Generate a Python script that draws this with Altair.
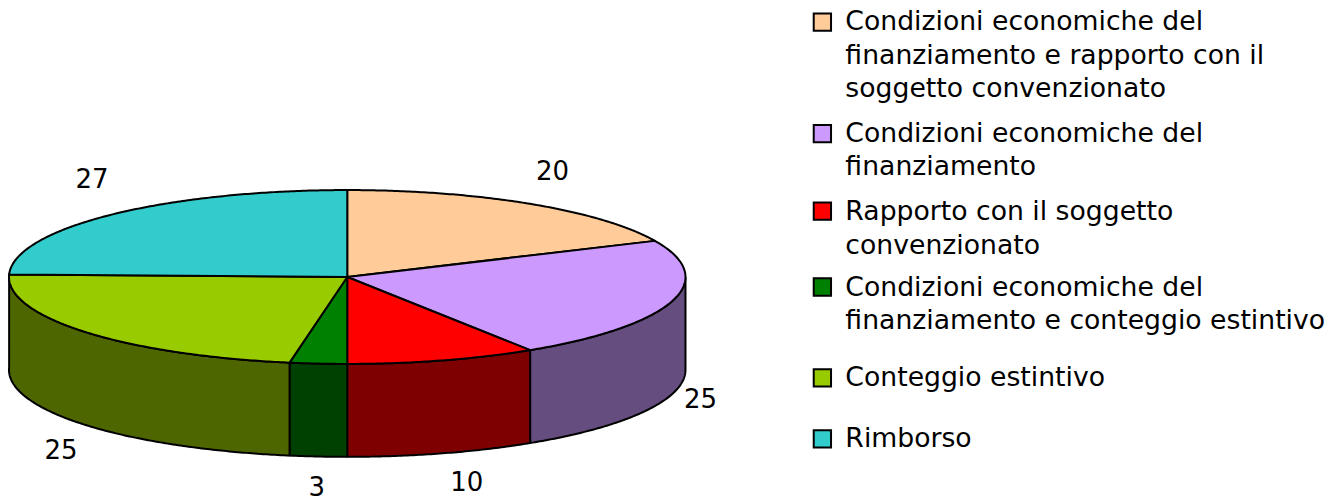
import math
import altair as alt
import pandas as pd

# ---- chart data -------------------------------------------------------
categories = [
    "Condizioni economiche del finanziamento e rapporto con il soggetto convenzionato",
    "Condizioni economiche del finanziamento",
    "Rapporto con il soggetto convenzionato",
    "Condizioni economiche del finanziamento e conteggio estintivo",
    "Conteggio estintivo",
    "Rimborso",
]
values = [20, 25, 10, 3, 25, 27]
legend_lines = [
    ["Condizioni economiche del", "finanziamento e rapporto con il", "soggetto convenzionato"],
    ["Condizioni economiche del", "finanziamento"],
    ["Rapporto con il soggetto", "convenzionato"],
    ["Condizioni economiche del", "finanziamento e conteggio estintivo"],
    ["Conteggio estintivo"],
    ["Rimborso"],
]

# ---- styling ----------------------------------------------------------
top_colors = ["#FFCC99", "#CC99FF", "#FF0000", "#008000", "#99CC00", "#33CCCC"]
wall_colors = ["#7F664D", "#664D7F", "#7F0000", "#004000", "#4D6600", "#196666"]
FONT = "DejaVu Sans"
W, H = 1319, 489
CX, CY, RX, RY, DEPTH = 346.5, 277.0, 338.5, 87.0, 93.0
LABEL_X = [552, 700, 466, 316, 60, 91]
LABEL_Y = [172, 400.5, 483.5, 488.5, 451, 179.5]
LEGEND_KEY_Y = [22, 133.5, 211, 287, 378, 439]
LEGEND_LINE = 33.5
LEGEND_TEXT_DY = [0, 0, 1, 1, 0, 0]
KEY_X, TEXT_X = 822, 845

xs = alt.Scale(domain=[8, 8 + W], range=[0, W])
ys = alt.Scale(domain=[8, 8 + H], range=[0, H])
X = lambda f: alt.X(f, type="quantitative", scale=xs, axis=None)
Y = lambda f: alt.Y(f, type="quantitative", scale=ys, axis=None)


def ell(deg, drop=0.0):
    a = math.radians(deg)
    return CX + RX * math.sin(a), CY - RY * math.cos(a) + drop


def arc(a0, a1, drop=0.0):
    n = max(2, int(abs(a1 - a0)) * 2)
    return [ell(a0 + (a1 - a0) * i / n, drop) for i in range(n + 1)]


def poly(points, fill):
    df = pd.DataFrame(
        [{"x": p[0], "y": p[1], "i": i} for i, p in enumerate(points)]
    )
    return (
        alt.Chart(df)
        .mark_line(fill=fill, stroke="black", strokeWidth=2, strokeJoin="round", interpolate="linear")
        .encode(x=X("x"), y=Y("y"), order=alt.Order("i:Q"))
    )


total = sum(values)
bounds = [0.0]
for v in values:
    bounds.append(bounds[-1] + v / total * 360)

layers = []
# outer walls first, only the front half is visible
for k in range(len(values)):
    a0, a1 = max(bounds[k], 90), min(bounds[k + 1], 271.6)
    if a1 <= a0:
        continue
    pts = arc(a0, a1) + arc(a1, a0, DEPTH)
    pts.append(pts[0])
    layers.append(poly(pts, wall_colors[k]))
# top faces
for k in range(len(values)):
    pts = [(CX, CY)] + arc(bounds[k], bounds[k + 1]) + [(CX, CY)]
    layers.append(poly(pts, top_colors[k]))

# value labels
lab = pd.DataFrame({"x": LABEL_X, "y": LABEL_Y, "t": [str(v) for v in values]})
layers.append(
    alt.Chart(lab)
    .mark_text(font=FONT, fontSize=26, color="black", align="center", baseline="middle")
    .encode(x=X("x"), y=Y("y"), text="t:N")
)

# legend keys
keys = pd.DataFrame({"x": [KEY_X] * 6, "y": LEGEND_KEY_Y, "c": top_colors, "cat": categories})
layers.append(
    alt.Chart(keys)
    .mark_point(shape="square", filled=True, size=300, stroke="black", strokeWidth=2, opacity=1)
    .encode(x=X("x"), y=Y("y"), fill=alt.Fill("c:N", scale=None))
)

# legend text
rows = []
for k, lines in enumerate(legend_lines):
    for j, s in enumerate(lines):
        rows.append({"x": TEXT_X, "y": LEGEND_KEY_Y[k] + LEGEND_TEXT_DY[k] + j * LEGEND_LINE, "t": s})
layers.append(
    alt.Chart(pd.DataFrame(rows))
    .mark_text(font=FONT, fontSize=26.7, color="black", align="left", baseline="middle")
    .encode(x=X("x"), y=Y("y"), text="t:N")
)

chart = (
    alt.layer(*layers)
    .properties(width=W, height=H, padding=0, background="white")
    .configure_view(stroke=None)
)
chart.save("out.html", embed_options={"renderer": "svg", "actions": False})
